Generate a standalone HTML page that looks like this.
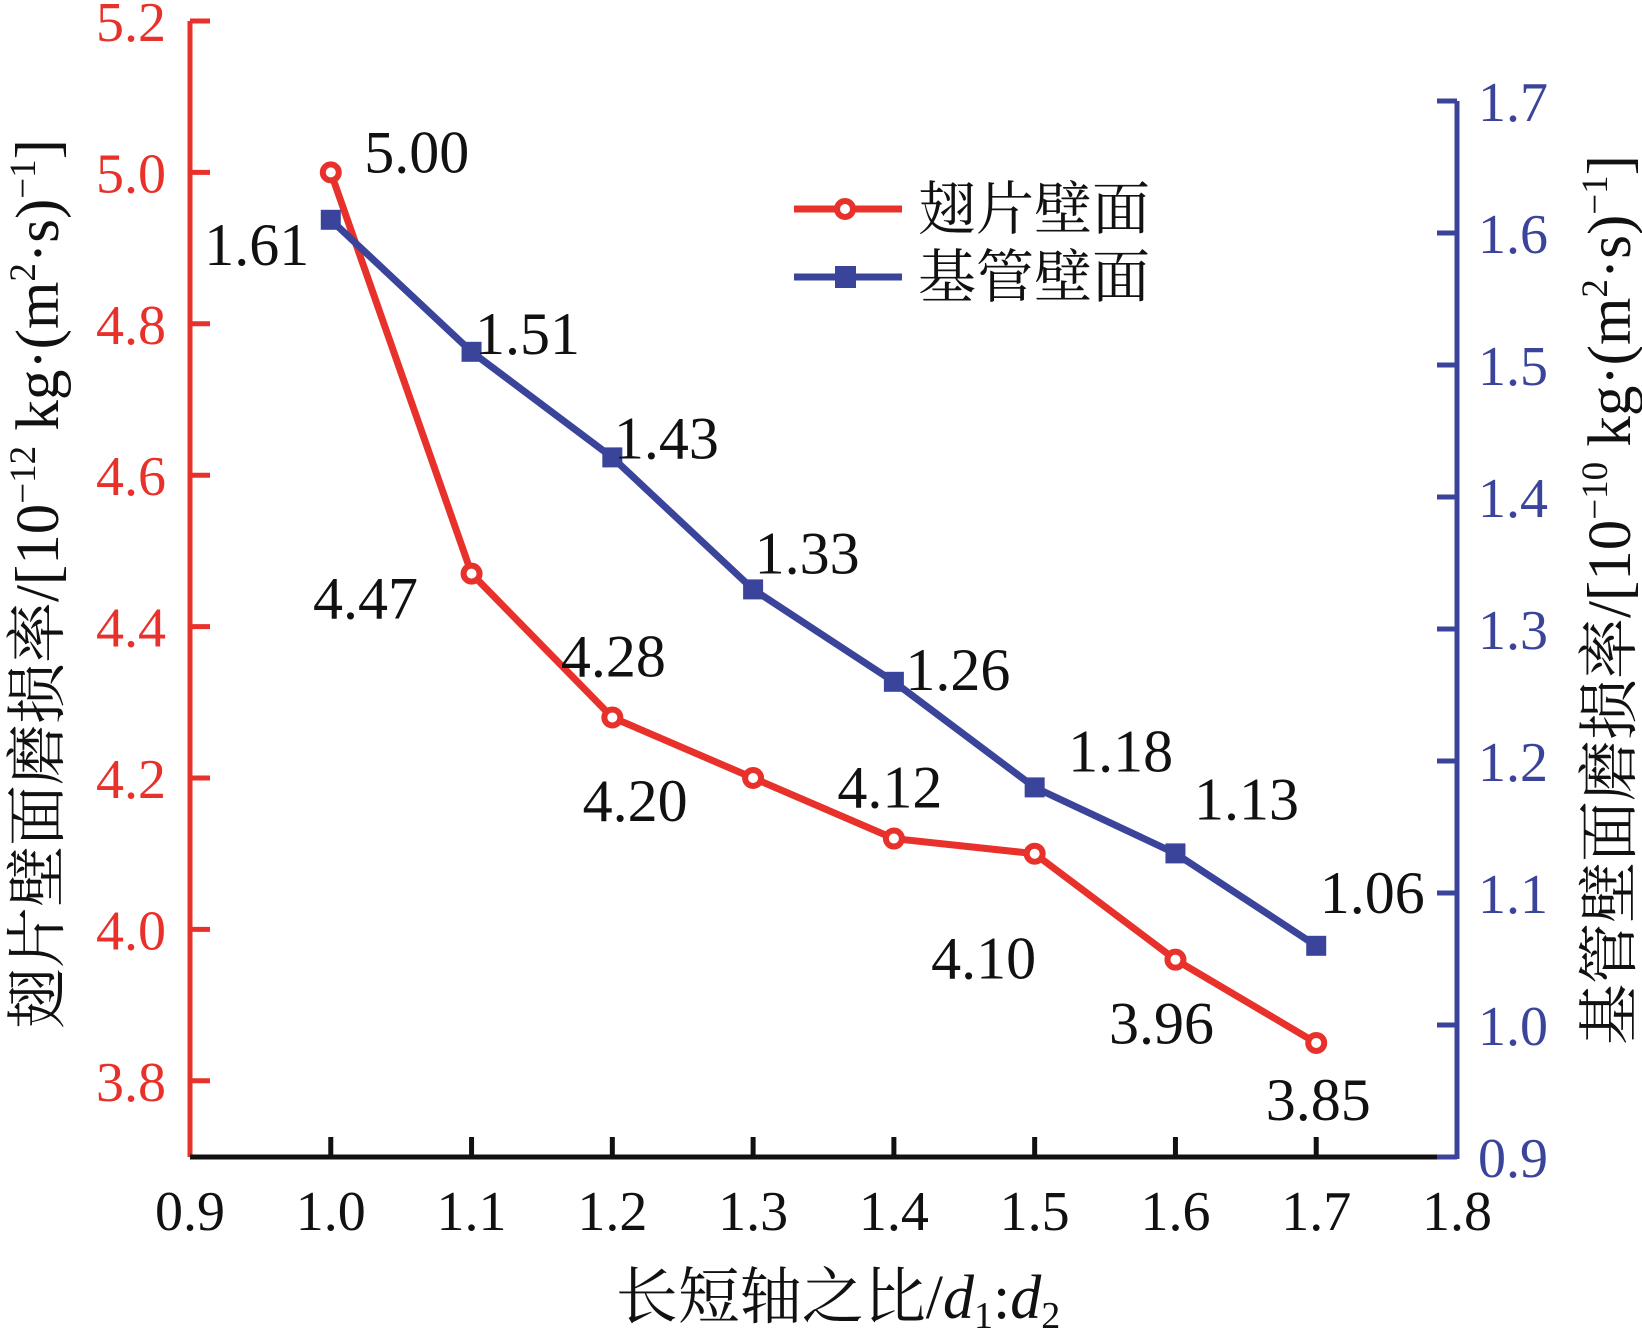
<!DOCTYPE html>
<html><head><meta charset="utf-8"><style>
html,body{margin:0;padding:0;background:#fff}
svg text{font-family:"Liberation Serif","Noto Serif CJK SC",serif}
</style></head><body>
<svg id="chart" width="1642" height="1328" viewBox="0 0 1642 1328" xmlns="http://www.w3.org/2000/svg">
<g id="axes"></g>
<g id="series"></g>
<g id="labels"></g>
<g>
  <line x1="794" y1="209" x2="902" y2="209" stroke="#e8312a" stroke-width="7"/>
  <circle cx="845" cy="209" r="8" fill="#fff" stroke="#e8312a" stroke-width="6"/>
  <text x="918" y="229" font-size="58" fill="#111">翅片壁面</text>
  <line x1="794" y1="277" x2="902" y2="277" stroke="#3a449a" stroke-width="7"/>
  <rect x="835" y="266" width="21" height="22" fill="#3a449a"/>
  <text x="918" y="297" font-size="58" fill="#111">基管壁面</text>
</g>
<text x="838" y="1318" font-size="62" text-anchor="middle" fill="#111">长短轴之比/<tspan font-style="italic">d</tspan><tspan font-size="38" dy="10">1</tspan><tspan dy="-10">:</tspan><tspan font-style="italic">d</tspan><tspan font-size="38" dy="10">2</tspan></text>
<text transform="translate(58,584) rotate(-90)" font-size="61" text-anchor="middle" fill="#111">翅片壁面磨损率/[10<tspan font-size="37" dy="-23">−12</tspan><tspan dy="23"> kg·(m</tspan><tspan font-size="37" dy="-23">2</tspan><tspan dy="23">·s)</tspan><tspan font-size="37" dy="-23">−1</tspan><tspan dy="23">]</tspan></text>
<text transform="translate(1630,600) rotate(-90)" font-size="61" text-anchor="middle" fill="#111">基管壁面磨损率/[10<tspan font-size="37" dy="-23">−10</tspan><tspan dy="23"> kg·(m</tspan><tspan font-size="37" dy="-23">2</tspan><tspan dy="23">·s)</tspan><tspan font-size="37" dy="-23">−1</tspan><tspan dy="23">]</tspan></text>
</svg>
<script>
const xValues = [1.0, 1.1, 1.2, 1.3, 1.4, 1.5, 1.6, 1.7];
const finValues = [5.00, 4.47, 4.28, 4.20, 4.12, 4.10, 3.96, 3.85];
const tubeValues = [1.61, 1.51, 1.43, 1.33, 1.26, 1.18, 1.13, 1.06];
const xTicks = [0.9, 1.0, 1.1, 1.2, 1.3, 1.4, 1.5, 1.6, 1.7, 1.8];
const leftTicks = [3.8, 4.0, 4.2, 4.4, 4.6, 4.8, 5.0, 5.2];
const rightTicks = [0.9, 1.0, 1.1, 1.2, 1.3, 1.4, 1.5, 1.6, 1.7];
const finLabelOffsets = [[86,-21],[-106,24],[1,-62],[-118,22],[-4,-52],[-51,104],[-14,63],[2,56]];
const tubeLabelOffsets = [[-74,24],[56,-19],[54,-20],[54,-37],[64,-13],[86,-37],[71,-55],[56,-54]];

const NS = "http://www.w3.org/2000/svg";
const X0 = 190, X1 = 1457, Y0 = 1157;
const xs = v => X0 + (v - 0.9) / 0.9 * (X1 - X0);
const yL = v => 21 + (5.2 - v) / 1.5 * (1156.5 - 21);
const yR = v => 1157 - (v - 0.9) / 0.8 * (1157 - 101);
function mk(tag, attrs, parent){const e=document.createElementNS(NS,tag);for(const k in attrs)e.setAttribute(k,attrs[k]);parent.appendChild(e);return e;}
const axes=document.getElementById('axes'), series=document.getElementById('series'), labels=document.getElementById('labels');
const RED="#e8312a", BLUE="#3a449a";

let e;
e=mk('line',{x1:X0,y1:21,x2:X0,y2:Y0,stroke:RED,'stroke-width':5},axes);


e=mk('line',{x1:X0,y1:Y0,x2:X1,y2:Y0,stroke:"#111",'stroke-width':5},axes);


e=mk('line',{x1:X1,y1:yR(1.7),x2:X1,y2:Y0+2,stroke:BLUE,'stroke-width':5},axes);



xTicks.forEach(t=>{
  const x=xs(t);
  if(t>0.95 && t<1.75){
    e=mk('line',{x1:x,y1:Y0,x2:x,y2:Y0-20,stroke:"#111",'stroke-width':5},axes);
    
    
  }
  e=mk('text',{x:x,y:1230,'font-size':56,'text-anchor':'middle',fill:"#111"},axes);
  e.textContent=t.toFixed(1);
  
  
});
leftTicks.forEach(t=>{
  const y=yL(t);
  e=mk('line',{x1:X0,y1:y,x2:X0+20,y2:y,stroke:RED,'stroke-width':5},axes);
  
  
  e=mk('text',{x:166,y:y+20,'font-size':56,'text-anchor':'end',fill:RED},axes);
  e.textContent=t.toFixed(1);
  
  
});
rightTicks.forEach(t=>{
  const y=yR(t);
  e=mk('line',{x1:X1-20,y1:y,x2:X1,y2:y,stroke:BLUE,'stroke-width':5},axes);
  
  
  e=mk('text',{x:1478,y:y+20,'font-size':56,fill:BLUE},axes);
  e.textContent=t.toFixed(1);
  
  
});

e=mk('polyline',{points:xValues.map((x,i)=>xs(x)+','+yL(finValues[i])).join(' '),fill:'none',stroke:RED,'stroke-width':7},series);


e=mk('polyline',{points:xValues.map((x,i)=>xs(x)+','+yR(tubeValues[i])).join(' '),fill:'none',stroke:BLUE,'stroke-width':7},series);


xValues.forEach((x,i)=>{
  e=mk('circle',{cx:xs(x),cy:yL(finValues[i]),r:8,fill:'#fff',stroke:RED,'stroke-width':6},series);
  
  
  e=mk('rect',{x:xs(x)-10,y:yR(tubeValues[i])-10,width:20,height:20,fill:BLUE},series);
  
  
});
xValues.forEach((x,i)=>{
  const o=finLabelOffsets[i];
  e=mk('text',{x:xs(x)+o[0],y:yL(finValues[i])+o[1]+21,'font-size':60,'text-anchor':'middle',fill:'#111'},labels);
  e.textContent=finValues[i].toFixed(2);
  
  
  const p=tubeLabelOffsets[i];
  e=mk('text',{x:xs(x)+p[0],y:yR(tubeValues[i])+p[1]+21,'font-size':60,'text-anchor':'middle',fill:'#111'},labels);
  e.textContent=tubeValues[i].toFixed(2);
  
  
});
</script>
</body></html>
